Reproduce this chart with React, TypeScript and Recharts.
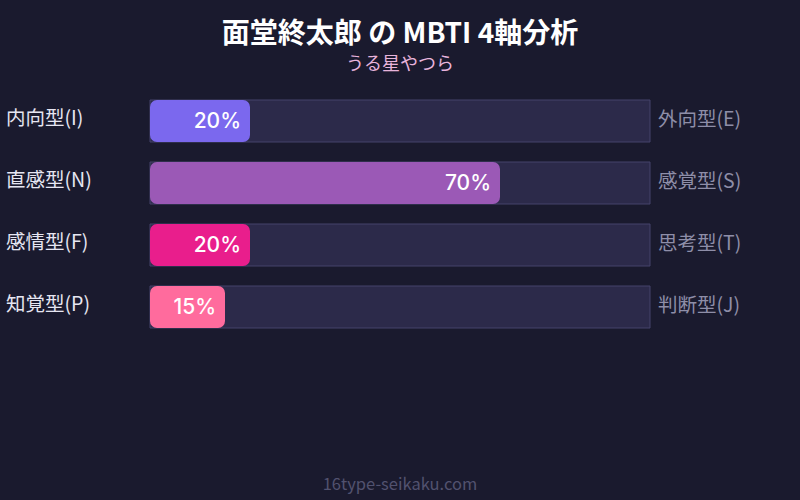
import React from 'react';
import { BarChart, Bar, XAxis, YAxis, LabelList } from 'recharts';

const leftLabels = ['内向型(I)', '直感型(N)', '感情型(F)', '知覚型(P)'];
const rightLabels = ['外向型(E)', '感覚型(S)', '思考型(T)', '判断型(J)'];
const values = [20, 70, 20, 15];
const colors = ['#7b68ee', '#9b59b6', '#e91e8c', '#ff6b9d'];

const data = leftLabels.map((l, i) => ({
  left: l,
  right: rightLabels[i],
  value: values[i],
  color: colors[i],
}));

const FONT = '"Noto Sans CJK JP", "Noto Sans", sans-serif';

const LeftTick = (props: any) => {
  const { y, payload } = props;
  return (
    <text x={6} y={y} dy={4} textAnchor="start" fill="#e6e6f2" fontSize={19.5} fontFamily={FONT}>
      {payload.value}
    </text>
  );
};

const PctLabel = (props: any) => {
  const { x, y, width, height, value } = props;
  return (
    <text
      x={x + width - 9}
      y={y + height / 2}
      dy={6.5}
      textAnchor="end"
      fill="#ffffff"
      fontSize={21}
      fontWeight={500}
      fontFamily='"Inter", "Noto Sans", sans-serif'
    >
      {value}%
    </text>
  );
};

const CellBar = (props: any) => {
  const { x, y, width, height, payload } = props;
  const r = Math.min(7, width / 2);
  return <rect x={x} y={y} width={width} height={height} rx={r} ry={r} fill={payload.color} />;
};

export default function App() {
  return (
    <div style={{ position: 'absolute', left: 0, top: 0, width: 800, height: 500, background: '#1a1a2e' }}>
      <BarChart
        width={800}
        height={500}
        data={data}
        layout="vertical"
        margin={{ top: 90, right: 0, bottom: 162, left: 0 }}
        barCategoryGap={10}
      >
        <text x={400} y={43} textAnchor="middle" fill="#ffffff" fontSize={28} fontWeight={700} fontFamily={FONT}>
          面堂終太郎 の MBTI 4軸分析
        </text>
        <text x={400} y={70} textAnchor="middle" fill="#e8b4dc" fontSize={18} fontFamily={FONT}>
          うる星やつら
        </text>
        <text x={400} y={490} textAnchor="middle" fill="#52526f" fontSize={16.5} fontFamily={FONT}>
          16type-seikaku.com
        </text>
        <XAxis type="number" domain={[0, 100]} hide />
        <YAxis
          yAxisId="l"
          type="category"
          dataKey="left"
          width={150}
          axisLine={false}
          tickLine={false}
          tick={<LeftTick />}
        />
        <YAxis
          yAxisId="r"
          type="category"
          dataKey="right"
          orientation="right"
          width={150}
          axisLine={false}
          tickLine={false}
          tickSize={0}
          tickMargin={8}
          tick={{ fill: '#8e8ea8', fontSize: 19.5, fontFamily: FONT, dy: -2 }}
        />
        <Bar
          yAxisId="l"
          dataKey="value"
          isAnimationActive={false}
          shape={<CellBar />}
          background={{ fill: '#2c2a4a', stroke: '#44426a', strokeWidth: 1 }}
        >
          <LabelList dataKey="value" content={<PctLabel />} />
        </Bar>
      </BarChart>
    </div>
  );
}
